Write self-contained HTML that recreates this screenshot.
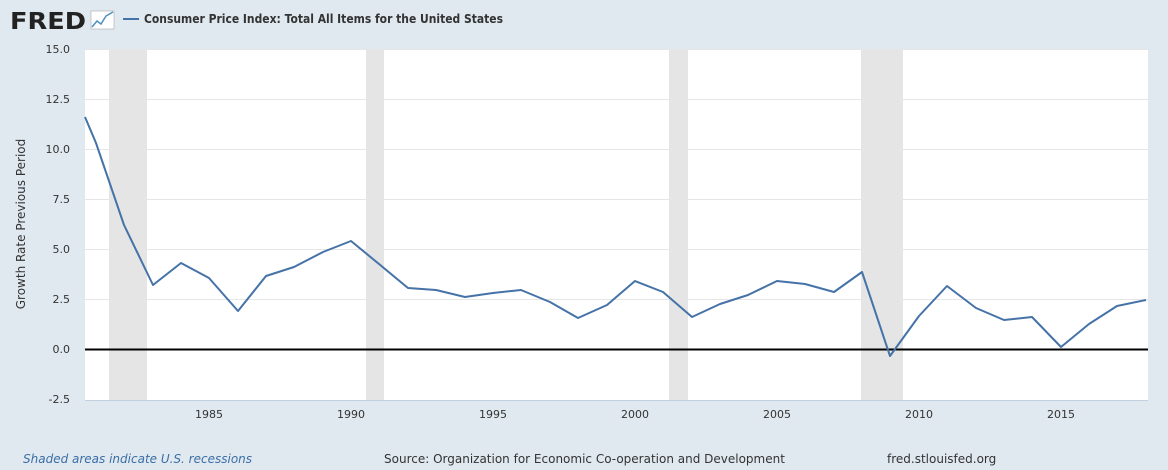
<!DOCTYPE html>
<html><head><style>
body{margin:0;background:#e1e9f0;font-family:"Liberation Sans","DejaVu Sans",sans-serif;}
</style></head><body>
<svg width="1168" height="470" xmlns="http://www.w3.org/2000/svg" style="display:block">
<rect width="1168" height="470" fill="#e1e9f0"/>
<text x="10" y="29" font-family="DejaVu Sans,sans-serif" font-weight="bold" font-size="23" fill="#222" textLength="76" lengthAdjust="spacingAndGlyphs">FRED</text>
<rect x="91" y="11" width="23" height="18" fill="#fff" stroke="#999" stroke-width="0.5"/>
<polyline points="92,27 97,21 101,24 106,16 113,12" fill="none" stroke="#4a90c0" stroke-width="1.5"/>
<line x1="123" y1="19" x2="139" y2="19" stroke="#4572a7" stroke-width="2"/>
<text x="144" y="23" font-family="DejaVu Sans,sans-serif" font-weight="bold" font-size="12" fill="#333" textLength="359" lengthAdjust="spacingAndGlyphs">Consumer Price Index: Total All Items for the United States</text>
<rect x="85" y="49" width="1063" height="351" fill="#fff"/>
<g fill="#e5e5e5">
<rect x="109" y="49" width="38" height="351"/>
<rect x="366" y="49" width="18" height="351"/>
<rect x="669" y="49" width="19" height="351"/>
<rect x="861" y="49" width="42" height="351"/>
</g>
<g stroke="#e6e6e6" stroke-width="1">
<line x1="85" y1="49.5" x2="1148" y2="49.5"/>
<line x1="85" y1="99.5" x2="1148" y2="99.5"/>
<line x1="85" y1="149.5" x2="1148" y2="149.5"/>
<line x1="85" y1="199.5" x2="1148" y2="199.5"/>
<line x1="85" y1="249.5" x2="1148" y2="249.5"/>
<line x1="85" y1="299.5" x2="1148" y2="299.5"/>
</g>
<line x1="85" y1="349.5" x2="1148" y2="349.5" stroke="#000" stroke-width="2"/>
<line x1="85" y1="400.5" x2="1148" y2="400.5" stroke="#c0d0e0" stroke-width="1"/>
<g font-family="DejaVu Sans,sans-serif" font-size="11" fill="#333" text-anchor="end">
<text x="70" y="53">15.0</text><text x="70" y="103">12.5</text><text x="70" y="153">10.0</text>
<text x="70" y="203">7.5</text><text x="70" y="253">5.0</text><text x="70" y="303">2.5</text>
<text x="70" y="353">0.0</text><text x="70" y="403">-2.5</text>
</g>
<g font-family="DejaVu Sans,sans-serif" font-size="11" fill="#333" text-anchor="middle">
<text x="209" y="418">1985</text><text x="351" y="418">1990</text><text x="493" y="418">1995</text>
<text x="635" y="418">2000</text><text x="777" y="418">2005</text><text x="919" y="418">2010</text>
<text x="1061" y="418">2015</text>
</g>
<text transform="translate(25,224) rotate(-90)" font-family="DejaVu Sans,sans-serif" font-size="12" fill="#333" text-anchor="middle">Growth Rate Previous Period</text>
<polyline fill="none" stroke="#4572a7" stroke-width="2" stroke-linejoin="round" points="85,117 96,143 124,225 153,285 181,263 209,278 238,311 266,276 294,267 323,252 351,241 379,264 408,288 436,290 465,297 493,293 521,290 550,302 578,318 607,305 635,281 663,292 692,317 720,304 748,295 777,281 805,284 834,292 862,272 890,356 919,316 947,286 976,308 1004,320 1032,317 1061,347 1089,324 1117,306 1146,300"/>
<text x="23" y="463" font-family="DejaVu Sans,sans-serif" font-style="italic" font-size="12" fill="#3a6ea5">Shaded areas indicate U.S. recessions</text>
<text x="384" y="463" font-family="DejaVu Sans,sans-serif" font-size="12" fill="#333">Source: Organization for Economic Co-operation and Development</text>
<text x="887" y="463" font-family="DejaVu Sans,sans-serif" font-size="12" fill="#333">fred.stlouisfed.org</text>
</svg>
</body></html>
